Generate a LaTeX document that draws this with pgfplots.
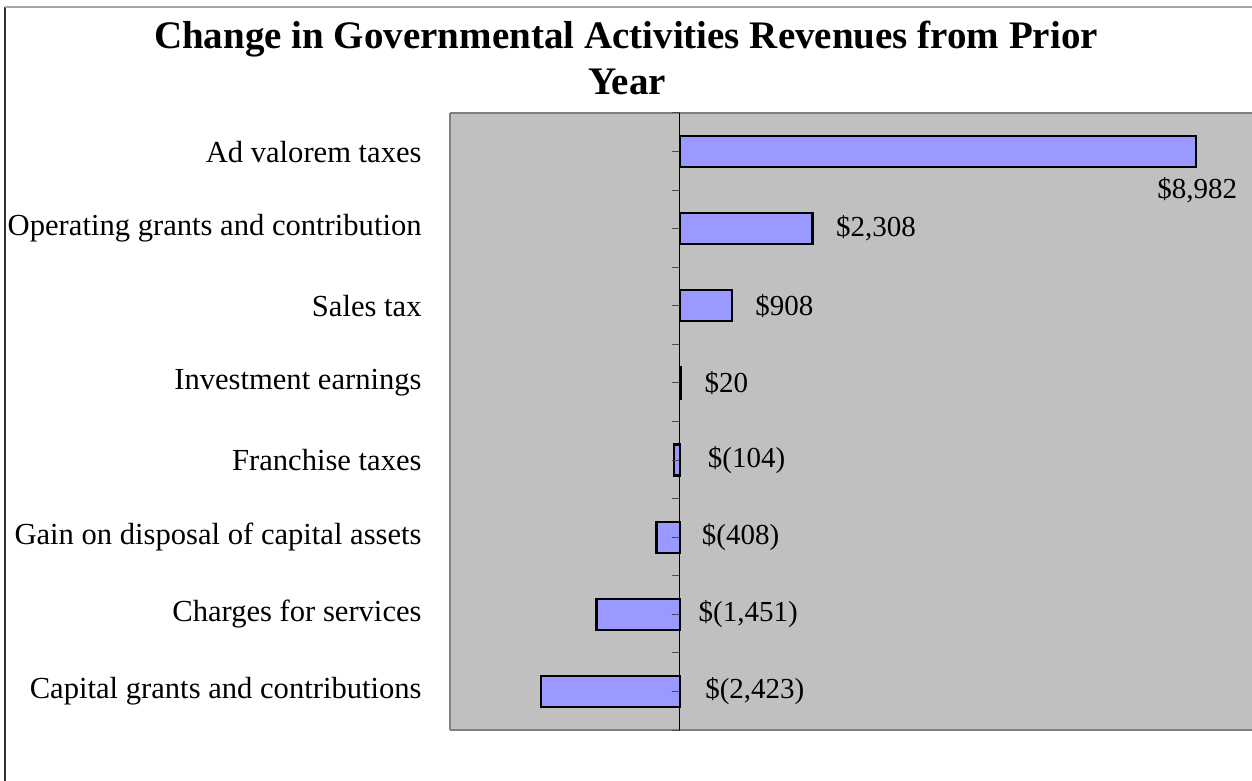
\documentclass[border=0pt]{standalone}
\usepackage{pgfplots}
\pgfplotsset{compat=1.18}
\usepackage{fontspec}
\setmainfont{Liberation Serif}
\definecolor{plotgray}{HTML}{C0C0C0}
\definecolor{barblue}{HTML}{9999FF}
\definecolor{framegray}{HTML}{808080}

\begin{document}
\begin{tikzpicture}[x=1pt,y=1pt]
\useasboundingbox (0,0) rectangle (626,390.5);
\draw[black!80, line width=0.6pt] (2.5,0) -- (2.5,387);
\draw[black!35, line width=0.6pt] (2.5,387) -- (626,387);
\node[font=\fontsize{19.5}{23}\selectfont\bfseries, anchor=base, inner sep=0pt] at (313,366) {Change in Governmental Activities Revenues from Prior};
\node[font=\fontsize{19.5}{23}\selectfont\bfseries, anchor=base, inner sep=0pt] at (313.5,343) {Year};
\begin{axis}[
  at={(225pt,25.5pt)}, anchor=south west,
  scale only axis, width=401pt, height=308.5pt,
  xmin=-4000, xmax=9956, ymin=-0.5, ymax=7.5,
  axis background/.style={fill=plotgray},
  axis x line*=box, axis y line*=left,
  axis line style={-, draw=framegray, line width=1pt},
  xtick=\empty,
  ytick={0,...,7},
  yticklabels={Capital grants and contributions, Charges for services, Gain on disposal of capital assets, Franchise taxes, Investment earnings, Sales tax, Operating grants and contribution, Ad valorem taxes},
  major tick length=0pt,
  yticklabel style={font=\fontsize{15.3}{18}\selectfont, anchor=east, inner sep=0pt, xshift=-14pt},
  clip=false,
]
\addplot[xbar, bar width=15.5pt, fill=barblue, draw=black, line width=1.1pt]
  coordinates {(-2423,0) (-1451,1) (-408,2) (-104,3) (20,4) (908,5) (2308,6) (8982,7)};
\addplot[draw=none, mark=none, nodes near coords, point meta=explicit symbolic,
  nodes near coords style={anchor=west, inner sep=0pt, font=\fontsize{14.5}{17}\selectfont}]
  coordinates {(8303,6.5) [\$8,982] (2710,6) [\$2,308] (1305,5) [\$908] (423,4) [\$20]
    (482,3) [\$(104)] (378,2) [\$(408)] (319,1) [\$(1,451)] (435,0) [\$(2,423)]};
\end{axis}
\begin{axis}[
  at={(225pt,25.5pt)}, anchor=south west,
  scale only axis, width=401pt, height=308.5pt,
  xmin=-4000, xmax=9956, ymin=-0.5, ymax=7.5,
  axis x line=none, axis y line=middle,
  axis line style={-, black, line width=0.6pt},
  xtick=\empty,
  ytick={-0.5,0,...,7.5},
  yticklabels={},
  tick align=outside, major tick length=4pt,
  tick style={black!70, line width=0.5pt},
]
\addplot[draw=none] coordinates {(0,0)};
\end{axis}
\end{tikzpicture}
\end{document}
